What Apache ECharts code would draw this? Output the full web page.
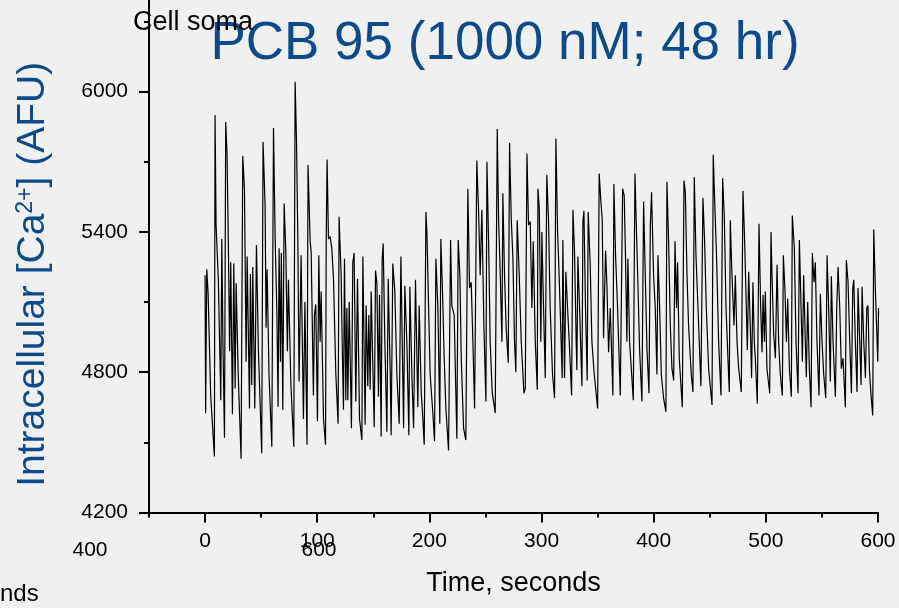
<!DOCTYPE html>
<html>
<head>
<meta charset="utf-8">
<script src="https://cdn.jsdelivr.net/npm/echarts@6/dist/echarts.min.js"></script>
<style>
html, body { margin: 0; padding: 0; background: #f0f0f0; }
#chart { width: 899px; height: 608px; }
</style>
</head>
<body>
<div id="chart"></div>
<script>
// trace: time (s) and intracellular Ca (AFU)
var timeSec = [
	0, 0.5, 1.5, 2.7, 5, 8.3, 8.9, 9.8, 11.8, 14, 14.9, 16, 17.3, 18.4, 19.6, 20.8, 21.9, 22.9, 24.4, 25.6,
	26.8, 27.7, 29.5, 32.1, 33.6, 35.1, 36.6, 37.5, 39.6, 40.4, 41.6, 42.5, 44.3, 45.8, 47.5, 50.5, 51.7, 53.5, 54.4, 55.3,
	57, 59.5, 61, 62.5, 64, 65.1, 66, 67.2, 68, 69.3, 70.5, 72, 73.4, 74.3, 76.5, 79.1, 80.3, 81.5, 82.7, 83.8,
	85.6, 87.7, 89, 90.9, 91.8, 93.7, 94.6, 96.6, 97.5, 98.7, 100.2, 101.4, 102.6, 103.5, 105.6, 107.4, 108.0, 108.8, 110.0, 111.5,
	113.0, 114.5, 116.6, 118.6, 119.5, 121.3, 122.5, 123.4, 124.3, 125.5, 126.4, 127.3, 128.5, 130.5, 131.7, 132.9, 134.4, 135.9, 137.7, 139.8,
	140.7, 142.7, 143.6, 145.1, 146.0, 147.2, 148.1, 150.8, 152.0, 153.2, 154.6, 155.5, 157.0, 157.9, 158.8, 160.3, 162.1, 163.3, 165.1, 165.9,
	167.4, 169.2, 171.0, 173.1, 174.6, 177.0, 178.1, 179.9, 181.7, 182.6, 184.4, 185.9, 187.6, 189.7, 190.9, 192.7, 193.9, 195.4, 196.9, 197.8,
	199.2, 200.7, 202.8, 204.6, 205.8, 207.6, 209.3, 210.2, 211.7, 213.2, 214.7, 217.1, 218.9, 220.0, 222.1, 224.5, 225.7, 227.2, 228.4, 230.5,
	232.5, 234.3, 235.8, 237.3, 238.8, 240.3, 242.3, 243.8, 245.3, 246.8, 248.6, 250.4, 251.3, 252.8, 254.2, 256.0, 258.7, 260.5, 261.7, 263.2,
	264.7, 265.5, 267.0, 268.5, 270.3, 271.5, 273.0, 274.5, 275.9, 277.1, 278.3, 280.1, 281.9, 284.3, 285.5, 287.0, 288.4, 289.9, 291.4, 292.6,
	294.4, 296.2, 296.8, 298.0, 299.4, 300.3, 301.8, 303.3, 304.7, 306.2, 307.7, 309.8, 311.6, 312.8, 314.3, 315.2, 316.6, 318.4, 319.0, 320.5,
	321.7, 323.2, 324.7, 326.8, 328.0, 329.4, 330.9, 331.5, 332.4, 333.9, 336.0, 336.9, 337.8, 339.2, 340.7, 341.6, 343.4, 344.9, 347.0, 350.0,
	351.4, 352.9, 354.1, 355.3, 357.1, 358.3, 359.8, 361.3, 363.6, 364.5, 366.0, 367.8, 370.2, 372.3, 373.7, 374.9, 376.1, 377.0, 378.5, 381.8,
	383.3, 384.5, 385.9, 387.4, 389.5, 391.0, 392.5, 394.0, 395.8, 397.0, 398.1, 399.9, 401.4, 402.9, 403.8, 405.3, 406.8, 408.8, 410.9, 411.8,
	413.3, 414.8, 416.3, 417.8, 419.0, 420.4, 421.3, 422.8, 425.5, 427.0, 428.2, 429.7, 431.1, 433.5, 435.0, 436.2, 437.7, 439.5, 442.1, 443.9,
	445.4, 446.9, 449.0, 452.0, 453.1, 454.6, 456.1, 457.9, 460.0, 461.5, 463.0, 464.5, 466.2, 467.4, 468.3, 469.8, 471.6, 472.8, 474.3, 475.8,
	478.1, 479.6, 481.1, 482.6, 483.5, 484.7, 486.5, 487.3, 488.5, 489.7, 490.6, 492.4, 493.9, 495.4, 496.6, 497.5, 498.7, 499.5, 501.0, 503.4,
	504.6, 505.5, 507.0, 508.5, 510.0, 511.4, 512.9, 514.7, 515.6, 517.1, 518.3, 519.5, 521.0, 522.7, 523.6, 525.4, 526.9, 528.7, 529.9, 531.4,
	532.6, 533.7, 535.2, 536.1, 537.3, 538.8, 540.3, 541.5, 543.0, 544.1, 545.6, 547.4, 548.6, 550.1, 551.6, 553.4, 554.6, 556.0, 557.5, 558.4,
	559.9, 562.0, 563.2, 564.4, 565.9, 567.3, 568.8, 570.9, 571.8, 573.3, 574.8, 576.3, 577.5, 578.4, 579.8, 581.3, 582.2, 583.7, 584.9, 585.8,
	587.3, 588.8, 590.0, 591.1, 592.3, 593.8, 595.3, 596.2, 597.7, 598.6, 599.8, 600.5
];
var caAFU = [
	5215, 4625, 5240, 5140, 4700, 4440, 5900, 5430, 5200, 4680, 5370, 4900, 4520, 5870, 5730, 5330, 4890, 5270, 4620, 5265,
	4730, 5180, 4800, 4430, 5725, 5586, 4845, 5295, 4645, 5220, 4745, 5250, 4645, 5344, 4900, 4453, 5785, 5515, 4990, 5240,
	4790, 4481, 5845, 5370, 5060, 4652, 5330, 4845, 5310, 4640, 5522, 5315, 4890, 5195, 4750, 4481, 6042, 5793, 5370, 4760,
	5300, 4600, 5100, 4490, 5686, 5360, 5315, 4700, 5045, 5090, 4590, 5300, 4930, 5145, 4600, 4490, 5365, 5710, 5370, 5380,
	5330, 5200, 4790, 4580, 5465, 5215, 4860, 4640, 5285, 4680, 5075, 4680, 5100, 4560, 5270, 5310, 4675, 5200, 4600, 4510,
	5295, 4575, 5085, 4740, 5045, 4725, 5145, 4565, 5235, 5180, 4695, 5130, 4525, 5285, 5350, 4930, 4545, 5200, 4790, 4530,
	5265, 5145, 4790, 4580, 5295, 4560, 5170, 4930, 4530, 5165, 4790, 4560, 5195, 4650, 5085, 4715, 4625, 4490, 5485, 5400,
	5100, 4790, 4645, 4505, 5285, 5075, 4580, 5370, 5145, 4860, 4645, 4465, 5365, 5085, 5045, 4515, 5365, 5215, 4860, 4560,
	4510, 5585, 5160, 5185, 4930, 4645, 5705, 5500, 5215, 5495, 5000, 4675, 5700, 5360, 4930, 4715, 4625, 5840, 5455, 5215,
	4930, 5565, 5215, 4985, 4840, 5780, 5455, 5285, 4930, 4800, 5450, 5215, 4930, 4710, 4730, 5735, 5430, 5445, 5075, 5360,
	4930, 4725, 5585, 5500, 4930, 5400, 5075, 4775, 5645, 5455, 5075, 4790, 4690, 5800, 5400, 5285, 5075, 4775, 5365, 4775,
	5230, 5075, 4930, 4700, 5495, 5315, 4930, 4810, 5295, 5075, 4740, 5445, 5490, 5075, 4765, 5485, 5260, 4930, 4790, 4645,
	5650, 5530, 5455, 4945, 5320, 5170, 4885, 5075, 4700, 5605, 5300, 5075, 4700, 5585, 5555, 5285, 4930, 5285, 4930, 4680,
	5650, 5430, 5185, 4900, 4675, 5530, 5215, 4900, 4710, 5430, 5570, 5215, 5075, 4790, 5300, 5075, 4790, 4690, 4630, 5615,
	5360, 5000, 4815, 4765, 5360, 5075, 5270, 4860, 4650, 5620, 5570, 5215, 5000, 4790, 4715, 5635, 5300, 5075, 4740, 5545,
	5360, 5075, 4815, 4660, 5730, 5500, 5285, 4930, 4700, 5630, 5455, 5075, 4860, 4715, 5450, 5215, 5000, 5215, 4930, 4815,
	4715, 5575, 5360, 5075, 4895, 5230, 4930, 4775, 5185, 4930, 4860, 4665, 5435, 5075, 4885, 5130, 4930, 5145, 4815, 4710,
	5400, 5215, 4960, 4860, 5260, 4930, 4790, 4700, 5300, 5145, 4930, 5115, 4815, 4695, 5470, 5330, 4930, 4710, 5365, 5075,
	4845, 5215, 4930, 4780, 5100, 4815, 4650, 5310, 5185, 5270, 4930, 4700, 5135, 4930, 4790, 4690, 5300, 5075, 4760, 5210,
	4930, 4695, 5075, 5250, 5075, 4815, 4860, 4650, 5280, 5185, 4930, 4710, 5160, 5195, 4930, 4715, 5160, 4930, 4745, 5165,
	4930, 4775, 5075, 5085, 4815, 4700, 4615, 5410, 5145, 5150, 4845, 5075
];
var xMajorTicks = [0, 100, 200, 300, 400, 500, 600];
var xMinorTicks = [-50, 50, 150, 250, 350, 450, 550];
var yMajorTicks = [4200, 4800, 5400, 6000];
var yMinorTicks = [4500, 5100, 5700, 6300];

var blue = '#0c4a8a';
var fontFam = 'Liberation Sans, Arial, sans-serif';

var chart = echarts.init(document.getElementById('chart'));
var trace = [];
for (var i = 0; i < timeSec.length; i++) {
	trace.push([timeSec[i], caAFU[i]]);
}

var option = {
	backgroundColor: '#f0f0f0',
	animation: false,
	grid: {
		left: 149,
		right: 21,
		top: 0,
		bottom: 95.5,
		containLabel: false
	},
	xAxis: [
		{
			type: 'value',
			min: -50,
			max: 600,
			name: 'Time, seconds',
			nameLocation: 'middle',
			nameGap: 58,
			nameTextStyle: { fontSize: 27, color: '#000', fontFamily: fontFam },
			axisLine: { onZero: false, lineStyle: { color: '#000', width: 2 } },
			axisTick: { customValues: xMajorTicks, length: 10, lineStyle: { color: '#000', width: 2 } },
			axisLabel: { customValues: xMajorTicks, fontSize: 21, color: '#000', fontFamily: fontFam, margin: 18 },
			splitLine: { show: false }
		},
		{
			type: 'value',
			min: -50,
			max: 600,
			position: 'bottom',
			axisLine: { show: false, onZero: false },
			axisTick: { customValues: xMinorTicks, length: 5, lineStyle: { color: '#000', width: 2 } },
			axisLabel: { show: false },
			splitLine: { show: false }
		}
	],
	yAxis: [
		{
			type: 'value',
			min: 4200,
			max: 6392,
			name: 'Intracellular [Ca{sup|2+}] (AFU)',
			nameLocation: 'middle',
			nameGap: 96,
			nameTextStyle: {
				fontSize: 39,
				color: blue,
				fontFamily: fontFam,
				padding: [0, 36, 0, 0],
				rich: {
					sup: { fontSize: 23, color: blue, fontFamily: fontFam, verticalAlign: 'top', padding: [0, 0, 14, 0] }
				}
			},
			axisLine: { onZero: false, lineStyle: { color: '#000', width: 2 } },
			axisTick: { customValues: yMajorTicks, length: 10, lineStyle: { color: '#000', width: 2 } },
			axisLabel: {
				customValues: yMajorTicks,
				fontSize: 21,
				color: '#000',
				fontFamily: fontFam,
				margin: 21,
				formatter: function (v) { return String(v); }
			},
			splitLine: { show: false }
		},
		{
			type: 'value',
			min: 4200,
			max: 6392,
			position: 'left',
			axisLine: { show: false, onZero: false },
			axisTick: { customValues: yMinorTicks, length: 5, lineStyle: { color: '#000', width: 2 } },
			axisLabel: { show: false },
			splitLine: { show: false }
		}
	],
	graphic: [
		{ type: 'text', z: 10, style: { text: 'PCB 95 (1000 nM; 48 hr)', x: 505, y: 44, align: 'center', verticalAlign: 'middle', fontSize: 53, fill: blue, fontFamily: fontFam } },
		{ type: 'text', z: 10, style: { text: 'Cell soma', x: 133, y: 23, align: 'left', verticalAlign: 'middle', fontSize: 27, fill: '#000', fontFamily: fontFam } },
		{ type: 'text', z: 10, style: { text: '400', x: 90, y: 550, align: 'center', verticalAlign: 'middle', fontSize: 21, fill: '#000', fontFamily: fontFam } },
		{ type: 'text', z: 10, style: { text: '600', x: 319, y: 550, align: 'center', verticalAlign: 'middle', fontSize: 21, fill: '#000', fontFamily: fontFam } },
		{ type: 'text', z: 10, style: { text: 'nds', x: 0, y: 594, align: 'left', verticalAlign: 'middle', fontSize: 24, fill: '#000', fontFamily: fontFam } }
	],
	series: [
		{
			name: 'Cell soma',
			type: 'line',
			xAxisIndex: 0,
			yAxisIndex: 0,
			data: trace,
			showSymbol: false,
			symbol: 'none',
			lineStyle: { color: '#000', width: 1.2 },
			clip: true
		}
	]
};
chart.setOption(option);
window.addEventListener('resize', function () {
	chart.resize();
});
</script>
</body>
</html>
